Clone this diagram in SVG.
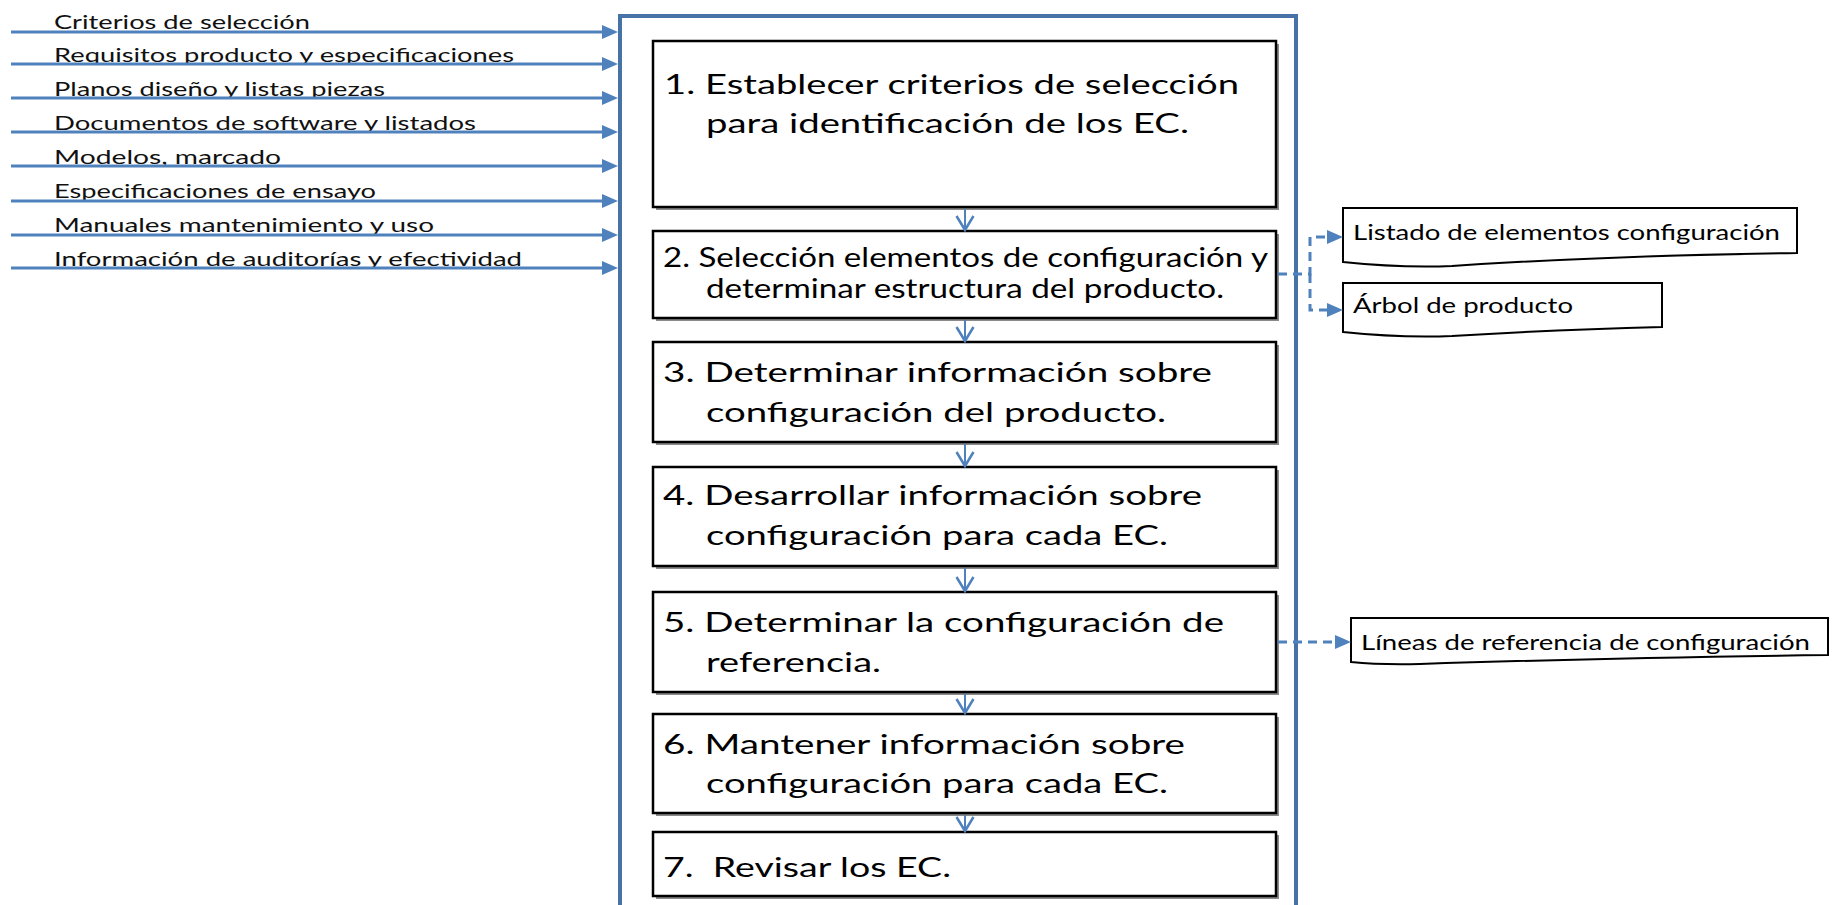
<svg xmlns="http://www.w3.org/2000/svg" width="1833" height="905" viewBox="0 0 1833 905">
  <style>
    .lbl { font-family: Lato, "Open Sans", "Liberation Sans", sans-serif; font-size: 20px; fill: #111; }
    .btxt { font-family: Lato, "Open Sans", "Liberation Sans", sans-serif; font-size: 26px; fill: #000; }
    .stxt { font-family: Lato, "Open Sans", "Liberation Sans", sans-serif; font-size: 21px; fill: #000; }
    .box { fill: #fff; stroke: #000; stroke-width: 2.5; }
    .shadow { fill: #8a8a8a; }
    .side { fill: #fff; stroke: #000; stroke-width: 2; }
    .in { stroke: #4f81bd; stroke-width: 3; fill: none; marker-end: url(#tri); }
    .down { stroke: #4f81bd; stroke-width: 2; fill: none; marker-end: url(#vee); }
    .dash { stroke: #4f81bd; stroke-width: 3; fill: none; stroke-dasharray: 9 6; }
  </style>
  <defs>
    <marker id="tri" markerUnits="userSpaceOnUse" viewBox="0 0 16 14" refX="2" refY="7" markerWidth="16" markerHeight="14" orient="auto">
      <path d="M0,0 L16,7 L0,14 Z" fill="#4f81bd"/>
    </marker>
    <marker id="vee" markerUnits="userSpaceOnUse" viewBox="0 0 18 20" refX="15" refY="10" markerWidth="18" markerHeight="20" orient="auto">
      <path d="M1,1.5 L15,10 L1,18.5" fill="none" stroke="#4f81bd" stroke-width="2.5"/>
    </marker>
  </defs>

  <!-- container -->
  <g id="container">
    <path d="M620,920 V16 H1296 V920" fill="none" stroke="#4672a8" stroke-width="4"/>
  </g>

  <!-- input labels -->
  <g id="inputs">
    <text class="lbl" x="54" y="29" textLength="256" lengthAdjust="spacingAndGlyphs">Criterios de selección</text>
    <text class="lbl" x="54" y="62" textLength="460" lengthAdjust="spacingAndGlyphs">Requisitos producto y especificaciones</text>
    <text class="lbl" x="54" y="96" textLength="331" lengthAdjust="spacingAndGlyphs">Planos diseño y listas piezas</text>
    <text class="lbl" x="54" y="130" textLength="422" lengthAdjust="spacingAndGlyphs">Documentos de software y listados</text>
    <text class="lbl" x="54" y="164" textLength="227" lengthAdjust="spacingAndGlyphs">Modelos, marcado</text>
    <text class="lbl" x="54" y="198" textLength="322" lengthAdjust="spacingAndGlyphs">Especificaciones de ensayo</text>
    <text class="lbl" x="54" y="232" textLength="380" lengthAdjust="spacingAndGlyphs">Manuales mantenimiento y uso</text>
    <text class="lbl" x="54" y="266" textLength="468" lengthAdjust="spacingAndGlyphs">Información de auditorías y efectividad</text>
  </g>

  <!-- process boxes -->
  <g id="step1">
    <rect class="shadow" x="656" y="44" width="623" height="166"/>
    <rect class="box" x="653" y="41" width="623" height="166"/>
    <text class="btxt" x="664" y="94" textLength="575" lengthAdjust="spacingAndGlyphs">1. Establecer criterios de selección</text>
    <text class="btxt" x="706" y="133" textLength="483" lengthAdjust="spacingAndGlyphs">para identificación de los EC.</text>
  </g>
  <g id="step2">
    <rect class="shadow" x="656" y="234" width="623" height="87"/>
    <rect class="box" x="653" y="231" width="623" height="87"/>
    <text class="btxt" x="663" y="267" textLength="605" lengthAdjust="spacingAndGlyphs">2. Selección elementos de configuración y</text>
    <text class="btxt" x="706" y="298" textLength="518" lengthAdjust="spacingAndGlyphs">determinar estructura del producto.</text>
  </g>
  <g id="step3">
    <rect class="shadow" x="656" y="345" width="623" height="100"/>
    <rect class="box" x="653" y="342" width="623" height="100"/>
    <text class="btxt" x="663" y="382" textLength="549" lengthAdjust="spacingAndGlyphs">3. Determinar información sobre</text>
    <text class="btxt" x="706" y="422" textLength="460" lengthAdjust="spacingAndGlyphs">configuración del producto.</text>
  </g>
  <g id="step4">
    <rect class="shadow" x="656" y="470" width="623" height="99"/>
    <rect class="box" x="653" y="467" width="623" height="99"/>
    <text class="btxt" x="663" y="505" textLength="539" lengthAdjust="spacingAndGlyphs">4. Desarrollar información sobre</text>
    <text class="btxt" x="706" y="545" textLength="462" lengthAdjust="spacingAndGlyphs">configuración para cada EC.</text>
  </g>
  <g id="step5">
    <rect class="shadow" x="656" y="595" width="623" height="100"/>
    <rect class="box" x="653" y="592" width="623" height="100"/>
    <text class="btxt" x="663" y="632" textLength="561" lengthAdjust="spacingAndGlyphs">5. Determinar la configuración de</text>
    <text class="btxt" x="706" y="672" textLength="175" lengthAdjust="spacingAndGlyphs">referencia.</text>
  </g>
  <g id="step6">
    <rect class="shadow" x="656" y="717" width="623" height="99"/>
    <rect class="box" x="653" y="714" width="623" height="99"/>
    <text class="btxt" x="663" y="754" textLength="522" lengthAdjust="spacingAndGlyphs">6. Mantener información sobre</text>
    <text class="btxt" x="706" y="793" textLength="462" lengthAdjust="spacingAndGlyphs">configuración para cada EC.</text>
  </g>
  <g id="step7">
    <rect class="shadow" x="656" y="835" width="623" height="64"/>
    <rect class="box" x="653" y="832" width="623" height="64"/>
    <text class="btxt" x="663" y="877" textLength="288" lengthAdjust="spacingAndGlyphs">7.&#160; Revisar los EC.</text>
  </g>

  <!-- output documents -->
  <g id="out1">
    <path class="side" d="M1343,208 H1797 V253 Q1600,256 1452,266 Q1400,268 1343,262 Z"/>
    <text class="stxt" x="1353" y="240" textLength="427" lengthAdjust="spacingAndGlyphs">Listado de elementos configuración</text>
  </g>
  <g id="out2">
    <path class="side" d="M1343,283 H1662 V327 Q1550,330 1452,336 Q1400,338 1343,332 Z"/>
    <text class="stxt" x="1353" y="313" textLength="220" lengthAdjust="spacingAndGlyphs">Árbol de producto</text>
  </g>
  <g id="out3">
    <path class="side" d="M1351,618 H1828 V655 Q1600,658 1420,664 Q1380,665 1351,662 Z"/>
    <text class="stxt" x="1361" y="650" textLength="449" lengthAdjust="spacingAndGlyphs">Líneas de referencia de configuración</text>
  </g>

  <!-- connectors -->
  <g id="connectors">
    <line class="in" x1="11" y1="32" x2="604" y2="32"/>
    <line class="in" x1="11" y1="64" x2="604" y2="64"/>
    <line class="in" x1="11" y1="98" x2="604" y2="98"/>
    <line class="in" x1="11" y1="132" x2="604" y2="132"/>
    <line class="in" x1="11" y1="166" x2="604" y2="166"/>
    <line class="in" x1="11" y1="201" x2="604" y2="201"/>
    <line class="in" x1="11" y1="235" x2="604" y2="235"/>
    <line class="in" x1="11" y1="268" x2="604" y2="268"/>

    <line class="down" x1="965" y1="209" x2="965" y2="230"/>
    <line class="down" x1="965" y1="320" x2="965" y2="341"/>
    <line class="down" x1="965" y1="444" x2="965" y2="466"/>
    <line class="down" x1="965" y1="568" x2="965" y2="591"/>
    <line class="down" x1="965" y1="694" x2="965" y2="713"/>
    <line class="down" x1="965" y1="815" x2="965" y2="831"/>

    <path class="dash" d="M1278,274 H1310 V237 H1328"/>
    <path class="dash" d="M1310,274 V310 H1328"/>
    <line class="in" x1="1328" y1="237" x2="1329" y2="237"/>
    <line class="in" x1="1328" y1="310" x2="1329" y2="310"/>
    <path class="dash" d="M1278,642 H1336"/>
    <line class="in" x1="1335" y1="642" x2="1337" y2="642"/>
  </g>
</svg>
